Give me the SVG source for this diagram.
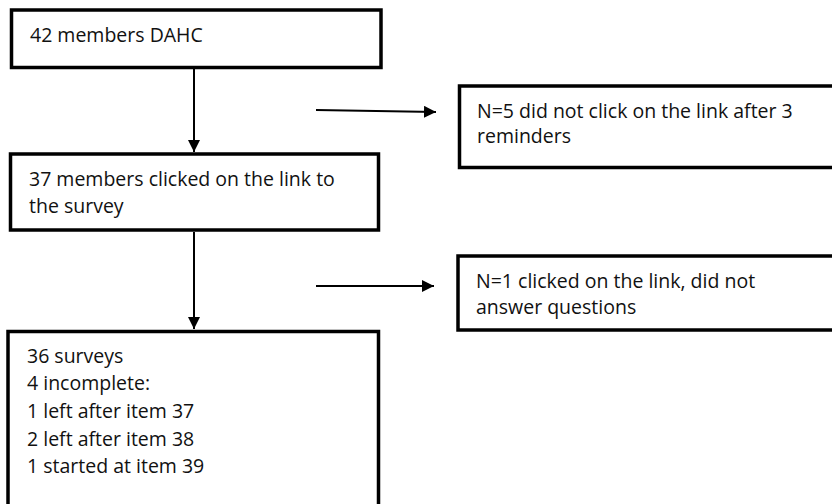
<svg xmlns="http://www.w3.org/2000/svg" width="832" height="504" viewBox="0 0 832 504">
  <style>
    .box { fill: #ffffff; stroke: #000000; stroke-width: 3.5; }
    .lbl { font-family: "Open Sans", "Liberation Sans", Arial, sans-serif; font-size: 19.5px; fill: #111111; }
    .conn { stroke: #000000; stroke-width: 2; fill: none; marker-end: url(#head); }
  </style>
  <defs>
    <marker id="head" viewBox="0 0 12 12" refX="12" refY="6" markerWidth="12" markerHeight="12" markerUnits="userSpaceOnUse" orient="auto">
      <path d="M0,0 L12,6 L0,12 Z" fill="#000000"/>
    </marker>
  </defs>

  <rect width="832" height="504" fill="#ffffff"/>

  <g id="connectors">
    <line class="conn" x1="194" y1="69" x2="194" y2="152"/>
    <line class="conn" x1="194" y1="232" x2="194" y2="329"/>
    <line class="conn" x1="316" y1="110" x2="436" y2="112"/>
    <line class="conn" x1="316" y1="286" x2="434" y2="286"/>
  </g>

  <g id="members">
    <rect class="box" x="11.5" y="10" width="369.5" height="57.5"/>
    <text class="lbl" x="30" y="42">42 members DAHC</text>
  </g>

  <g id="clicked">
    <rect class="box" x="10.5" y="154" width="368" height="76"/>
    <text class="lbl" x="29" y="186">37 members clicked on the link to</text>
    <text class="lbl" x="29" y="213">the survey</text>
  </g>

  <g id="no-click">
    <rect class="box" x="459.5" y="86" width="380" height="81.5"/>
    <text class="lbl" x="477" y="118">N=5 did not click on the link after 3</text>
    <text class="lbl" x="477" y="143">reminders</text>
  </g>

  <g id="no-answer">
    <rect class="box" x="458" y="256" width="380" height="74"/>
    <text class="lbl" x="476" y="288">N=1 clicked on the link, did not</text>
    <text class="lbl" x="476" y="314">answer questions</text>
  </g>

  <g id="surveys">
    <rect class="box" x="8" y="331.5" width="370.5" height="190"/>
    <text class="lbl" x="27" y="363">36 surveys</text>
    <text class="lbl" x="27" y="390">4 incomplete:</text>
    <text class="lbl" x="27" y="418">1 left after item 37</text>
    <text class="lbl" x="27" y="445.5">2 left after item 38</text>
    <text class="lbl" x="27" y="473">1 started at item 39</text>
  </g>
</svg>
